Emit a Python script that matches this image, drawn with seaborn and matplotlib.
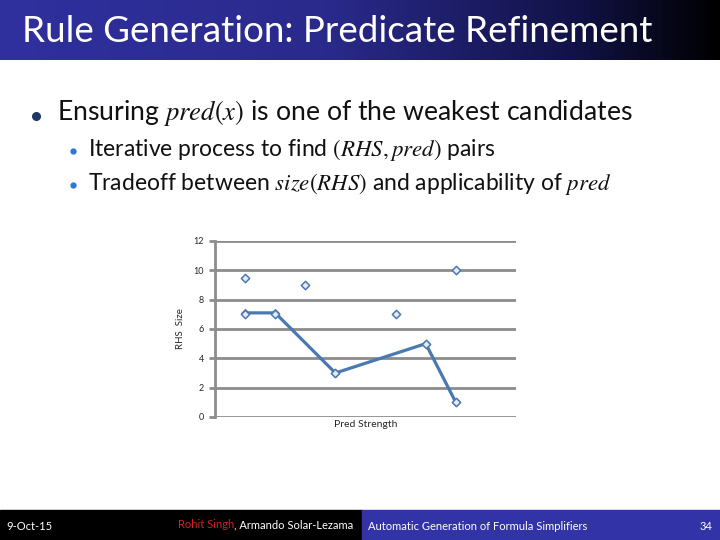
import numpy as np
import pandas as pd
import matplotlib
matplotlib.use("Agg")
import matplotlib.pyplot as plt
from matplotlib.colors import LinearSegmentedColormap
from matplotlib.patches import Rectangle
import seaborn as sns

# chart data
scatter_strength = [1, 1, 2, 3, 4, 6, 7, 8, 8]
scatter_size = [9.5, 7, 7, 9, 3, 7, 5, 10, 1]
frontier_strength = [1, 2, 4, 7, 8]
frontier_size = [7.1, 7.1, 3, 5, 1]
y_ticks = [0, 2, 4, 6, 8, 10, 12]

title = "Rule Generation: Predicate Refinement"
bullets = [
    "Ensuring $pred(x)$ is one of the weakest candidates",
    "Iterative process to find $(RHS, pred)$ pairs",
    "Tradeoff between $size(RHS)$ and applicability of $pred$",
]

sns.set_style("white")
plt.rcParams['font.family'] = ['Lato', 'DejaVu Sans']
plt.rcParams['mathtext.fontset'] = 'stix'

BLUE = "#4a78b0"
GRID = "#8c8c8c"

fig = plt.figure(figsize=(7.2, 5.4), dpi=100)
fig.patch.set_facecolor("white")

# overlay in pixel coordinates for slide furniture
bg = fig.add_axes([0, 0, 1, 1])
bg.set_xlim(0, 720)
bg.set_ylim(540, 0)
bg.axis("off")

# title bar with blue -> black gradient
cmap = LinearSegmentedColormap.from_list(
    "bar", [(0, "#30309f"), (0.45, "#2a2a8c"), (0.8, "#121248"), (1.0, "#000000")])
grad = np.linspace(0, 1, 256).reshape(1, -1)
bg.imshow(grad, cmap=cmap, extent=[0, 720, 60, 0], aspect="auto")
bg.text(22, 32, title, color="white", fontsize=26.5, va="center", ha="left")

# bullets
bg.plot([36], [116], marker="o", ms=5.5, color="#1f3864")
bg.text(57, 113, bullets[0], fontsize=19.2, va="center", ha="left", color="#111111")
for y, txt in zip([150, 184], bullets[1:]):
    bg.plot([73], [y + 1], marker="o", ms=3.5, color="#2e75d6")
    bg.text(88, y, txt, fontsize=16.5, va="center", ha="left", color="#111111")

# footer
bg.add_patch(Rectangle((0, 510), 362, 30, color="black"))
bg.add_patch(Rectangle((362, 510), 358, 30, color="#3333a8"))
bg.text(6, 526, "9-Oct-15", color="white", fontsize=8, va="center")
t = bg.text(178, 525, "Rohit Singh", color="#d42020", fontsize=8, va="center")
bg.annotate(", Armando Solar-Lezama", xy=(1, 0), xycoords=t, va="bottom",
            color="white", fontsize=8)
bg.text(368, 526, "Automatic Generation of Formula Simplifiers", color="white",
        fontsize=8, va="center")
bg.text(712, 526, "34", color="white", fontsize=8, va="center", ha="right")
bg.set_xlim(0, 720)
bg.set_ylim(540, 0)

# the chart
ax = fig.add_axes([215 / 720, 1 - 417 / 540, 301 / 720, 176 / 540])
pts = pd.DataFrame({"strength": scatter_strength, "size": scatter_size})
front = pd.DataFrame({"strength": frontier_strength, "size": frontier_size})

sns.lineplot(data=front, x="strength", y="size", sort=False, color=BLUE,
             linewidth=2.3, marker="D", markersize=4, markeredgecolor=BLUE, ax=ax, zorder=3)
sns.scatterplot(data=pts, x="strength", y="size", marker="D", s=18,
                color="#e4ebf5", edgecolor=BLUE, linewidth=1.1, ax=ax, zorder=4)

ax.set_xlim(0, 10)
ax.set_ylim(0, 12)
ax.set_yticks(y_ticks)
ax.set_yticklabels([str(v) for v in y_ticks], fontsize=6.5)
ax.set_xticks([])
ax.grid(axis="y", color=GRID, linewidth=2)
ax.set_axisbelow(True)
for s in ["top", "right", "bottom"]:
    ax.spines[s].set_visible(False)
ax.spines["left"].set_color(GRID)
ax.spines["left"].set_linewidth(2)
ax.tick_params(axis="y", length=4, width=2, color=GRID, pad=4, left=True)
ax.set_ylabel("RHS  Size", fontsize=7, labelpad=6)
ax.set_xlabel("Pred Strength", fontsize=7.5, labelpad=2)
ax.patch.set_alpha(0)

fig.savefig("out.png", dpi=100)
